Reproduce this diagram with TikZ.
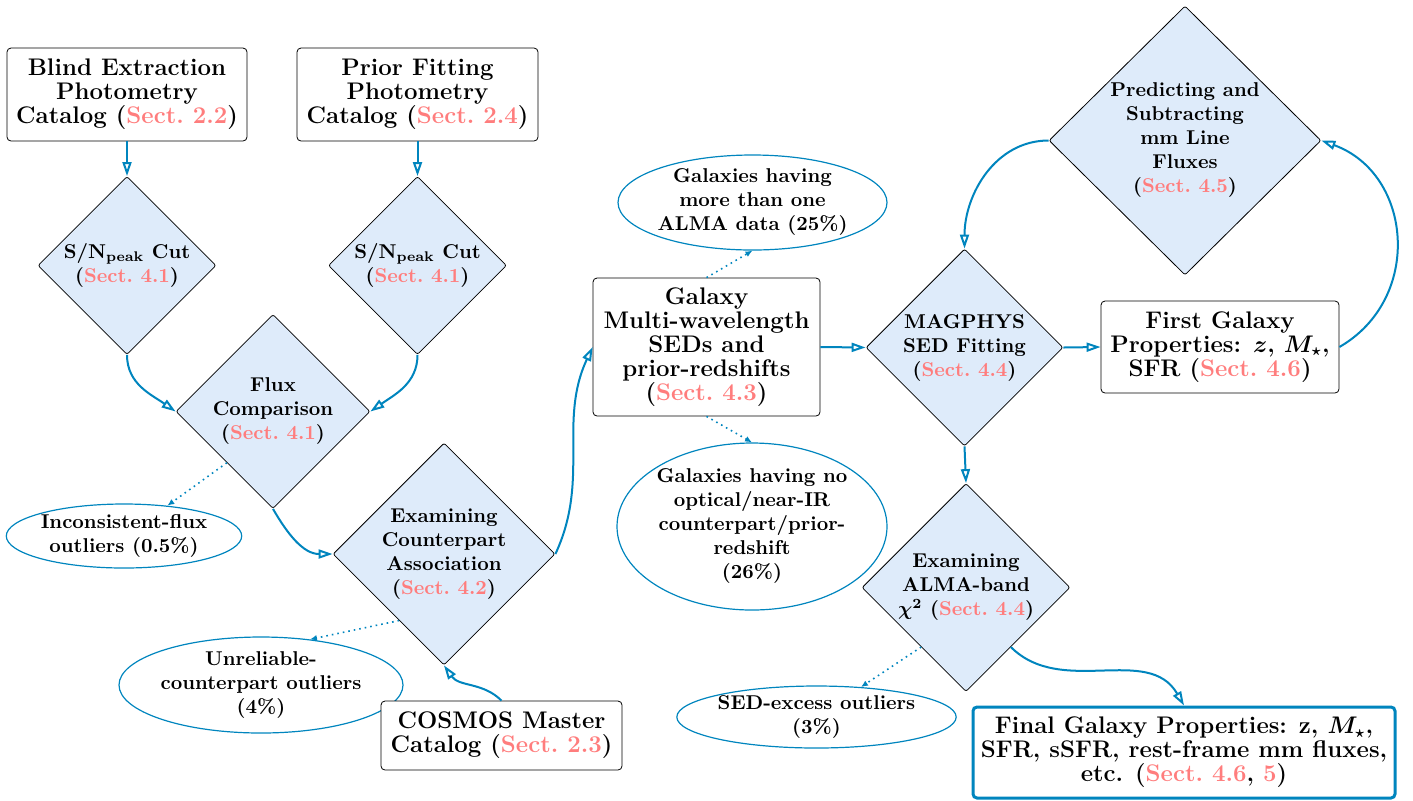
\documentclass[tikz,border=0pt]{standalone}
\usepackage{amsmath,amssymb}
\usepackage{xcolor}
\usetikzlibrary{shapes.geometric,arrows.meta,positioning}

\definecolor{flowblue}{RGB}{0,133,190}
\definecolor{secpink}{RGB}{255,125,125}
\definecolor{diafill}{RGB}{222,235,250}
\newcommand{\sectref}[1]{(\textcolor{secpink}{Sect.~#1})}

\begin{document}
\begin{tikzpicture}[x=0.5pt,y=0.5pt,
    box/.style={draw,fill=white,rounded corners=2pt,align=center,inner sep=0pt,
        font=\fontsize{12}{12}\selectfont\bfseries\boldmath},
    decision/.style={diamond,draw,fill=diafill,rounded corners=1pt,align=center,inner sep=0pt,
        font=\fontsize{10}{12}\selectfont\bfseries\boldmath},
    outlier/.style={ellipse,draw=flowblue,semithick,align=center,inner sep=0pt,
        font=\fontsize{10}{12}\selectfont\bfseries},
    flow/.style={draw=flowblue,line width=1pt,-{Triangle[open,length=7pt,width=4.5pt]}},
    drop/.style={draw=flowblue,thick,dotted,-{Latex[length=3.5pt,width=3pt]}}]
\useasboundingbox (0,0) rectangle (1413,-800);

    % Outliers
    \node[outlier,minimum width=117pt,minimum height=32pt] (inconsistent) at (124,-536)
        {Inconsistent-flux\\outliers (0.5\%)};
    \node[outlier,minimum width=142pt,minimum height=48pt] (unreliable) at (261,-685)
        {Unreliable-\\counterpart outliers\\(4\%)};
    \node[outlier,minimum width=134.5pt,minimum height=47.5pt] (multi) at (752.5,-202.5)
        {Galaxies having\\more than one\\ALMA data (25\%)};
    \node[outlier,minimum width=135pt,minimum height=83.5pt] (nocounter) at (752,-526.5)
        {Galaxies having no\\optical/near-IR\\counterpart/prior-\\redshift\\(26\%)};
    \node[outlier,minimum width=138.5pt,minimum height=31pt] (sedexcess) at (816.5,-717)
        {SED-excess outliers\\(3\%)};

    % Catalogs
    \node[box,minimum width=120pt,minimum height=46.5pt] (blind) at (127,-94.5)
        {Blind Extraction\\Photometry\\Catalog \sectref{2.2}};
    \node[box,minimum width=120.5pt,minimum height=46.5pt] (prior) at (417.5,-94.5)
        {Prior Fitting\\Photometry\\Catalog \sectref{2.4}};
    \node[box,minimum width=120.5pt,minimum height=34.5pt] (cosmos) at (501.5,-735.5)
        {COSMOS Master\\Catalog \sectref{2.3}};

    % Steps
    \node[decision,minimum width=89pt,minimum height=89pt] (sncutA) at (127,-265.5)
        {S/N$_{\mathbf{peak}}$ Cut\\\sectref{4.1}};
    \node[decision,minimum width=89pt,minimum height=89pt] (sncutB) at (417.5,-265.5)
        {S/N$_{\mathbf{peak}}$ Cut\\\sectref{4.1}};
    \node[decision,minimum width=97pt,minimum height=97pt] (fluxcomp) at (273,-411.5)
        {Flux\\Comparison\\\sectref{4.1}};
    \node[decision,minimum width=111pt,minimum height=111pt] (counterpart) at (444,-554)
        {Examining\\Counterpart\\Association\\\sectref{4.2}};
    \node[box,minimum width=113.5pt,minimum height=69pt] (seds) at (706.5,-347)
        {Galaxy\\Multi-wavelength\\SEDs and\\prior-redshifts\\\sectref{4.3}};
    \node[decision,minimum width=98.5pt,minimum height=98.5pt] (magphys) at (964.5,-347.5)
        {MAGPHYS\\SED Fitting\\\sectref{4.4}};
    \node[decision,minimum width=136pt,minimum height=134.5pt] (lines) at (1185,-140.5)
        {Predicting and\\Subtracting\\mm Line\\Fluxes\\\sectref{4.5}};
    \node[box,minimum width=119pt,minimum height=46pt] (first) at (1220,-347)
        {First Galaxy\\Properties: $z$, $M_\star$,\\SFR \sectref{4.6}};
    \node[decision,minimum width=104pt,minimum height=104pt] (chisq) at (966,-587.5)
        {Examining\\ALMA-band\\$\chi^2$ \sectref{4.4}};
    \node[box,draw=flowblue,line width=1.5pt,minimum width=211pt,minimum height=45.5pt] (final) at (1184,-752.5)
        {Final Galaxy Properties: z, $M_\star$,\\SFR, sSFR, rest-frame mm fluxes,\\etc.
         (\textcolor{secpink}{Sect.~4.6}, \textcolor{secpink}{5})};

    % Flow
    \draw[flow] (blind) -- (sncutA);
    \draw[flow] (prior) -- (sncutB);
    \draw[flow] (sncutA.south) to[out=-90,in=145] (fluxcomp.west);
    \draw[flow] (sncutB.south) to[out=-90,in=35] (fluxcomp.east);
    \draw[flow] (fluxcomp.south) to[out=-60,in=180] (counterpart.west);
    \draw[flow] (cosmos.north) to[out=135,in=-55] (counterpart.south);
    \draw[flow] (counterpart.east) to[out=65,in=-115] (seds.west);
    \draw[flow] (seds.east) -- (magphys.west);
    \draw[flow] (magphys.east) -- (first.west);
    \draw[flow] (first.east) to[out=30,in=-20,looseness=1.2] (lines.east);
    \draw[flow] (lines.west) to[out=180,in=90] (magphys.north);
    \draw[flow] (magphys.south) -- (chisq.north);
    \draw[flow] (chisq.-53) to[out=-45,in=120] (final.north);

    % Removed
    \draw[drop] (fluxcomp.-132) -- (inconsistent.35);
    \draw[drop] (counterpart.-124) -- (unreliable.43);
    \draw[drop] (seds.north) -- (multi.south);
    \draw[drop] (seds.south) -- (nocounter.north);
    \draw[drop] (chisq.-127) -- (sedexcess.34);
\end{tikzpicture}
\end{document}
